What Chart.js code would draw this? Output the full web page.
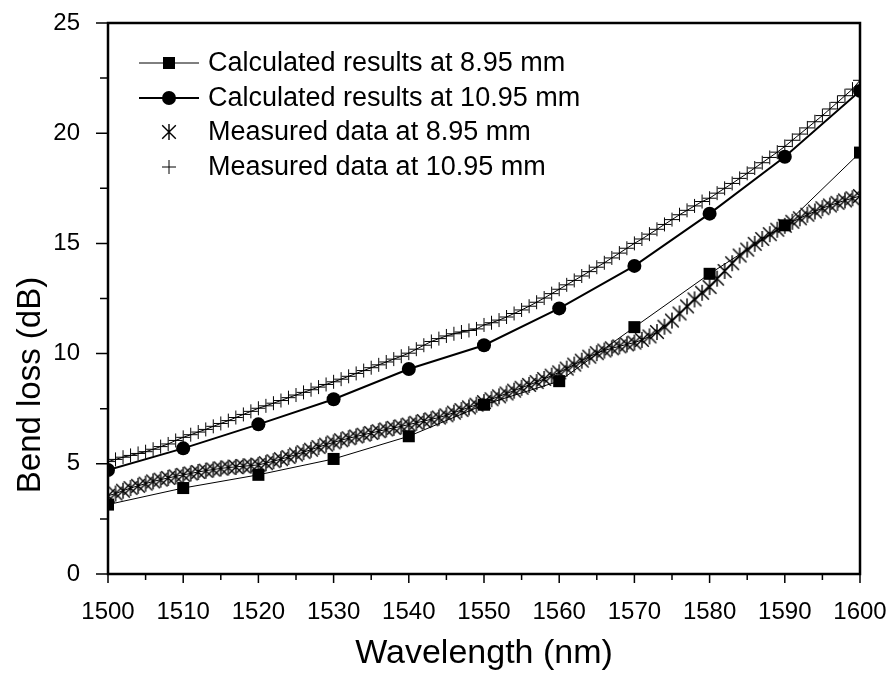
<!DOCTYPE html>
<html lang="en">
<head>
    <meta charset="UTF-8" />
    <title>Bend loss vs wavelength</title>
    <script src="https://cdn.jsdelivr.net/npm/chart.js"></script>
    <style>
        body { margin: 0; background: #fff; }
        canvas { display: block; }
    </style>
</head>
<body>
    <canvas id="lossChart" width="895" height="682"></canvas>

    <script>
        // calculated curves, every 10 nm
        const calcWavelength = [1500, 1510, 1520, 1530, 1540, 1550, 1560, 1570, 1580, 1590, 1600];
        const calc895 = [3.15, 3.9, 4.5, 5.22, 6.25, 7.68, 8.75, 11.2, 13.62, 15.82, 19.12];
        const calc1095 = [4.72, 5.7, 6.79, 7.93, 9.3, 10.38, 12.05, 13.98, 16.35, 18.93, 21.92];

        // measured data, every 1 nm
        const measWavelength = [
            1500, 1501, 1502, 1503, 1504, 1505, 1506, 1507, 1508, 1509,
            1510, 1511, 1512, 1513, 1514, 1515, 1516, 1517, 1518, 1519,
            1520, 1521, 1522, 1523, 1524, 1525, 1526, 1527, 1528, 1529,
            1530, 1531, 1532, 1533, 1534, 1535, 1536, 1537, 1538, 1539,
            1540, 1541, 1542, 1543, 1544, 1545, 1546, 1547, 1548, 1549,
            1550, 1551, 1552, 1553, 1554, 1555, 1556, 1557, 1558, 1559,
            1560, 1561, 1562, 1563, 1564, 1565, 1566, 1567, 1568, 1569,
            1570, 1571, 1572, 1573, 1574, 1575, 1576, 1577, 1578, 1579,
            1580, 1581, 1582, 1583, 1584, 1585, 1586, 1587, 1588, 1589,
            1590, 1591, 1592, 1593, 1594, 1595, 1596, 1597, 1598, 1599,
            1600
        ];
        const meas895 = [
            3.55, 3.65, 3.78, 3.9, 4.0, 4.1, 4.2, 4.28, 4.36, 4.43,
            4.5, 4.56, 4.63, 4.69, 4.74, 4.79, 4.83, 4.86, 4.89, 4.92,
            4.95, 5.03, 5.12, 5.21, 5.31, 5.42, 5.53, 5.64, 5.76, 5.87,
            5.97, 6.07, 6.16, 6.24, 6.32, 6.4, 6.48, 6.56, 6.63, 6.7,
            6.78, 6.86, 6.94, 7.02, 7.1, 7.2, 7.32, 7.44, 7.56, 7.68,
            7.8, 7.93, 8.06, 8.19, 8.32, 8.45, 8.58, 8.71, 8.85, 9.0,
            9.15, 9.32, 9.5, 9.68, 9.86, 10.02, 10.14, 10.24, 10.33, 10.42,
            10.5, 10.62, 10.78, 10.98, 11.22, 11.5, 11.82, 12.14, 12.46, 12.76,
            13.02, 13.4, 13.75, 14.1, 14.45, 14.72, 14.98, 15.2, 15.42, 15.62,
            15.8, 15.98, 16.14, 16.3, 16.45, 16.6, 16.72, 16.84, 16.95, 17.05,
            17.15
        ];
        const meas1095 = [
            5.1, 5.2, 5.3, 5.38, 5.47, 5.55, 5.66, 5.78, 5.9, 6.06,
            6.2, 6.32, 6.44, 6.56, 6.7, 6.83, 6.96, 7.1, 7.24, 7.38,
            7.52, 7.63, 7.75, 7.87, 8.0, 8.12, 8.24, 8.36, 8.48, 8.6,
            8.72, 8.84, 8.97, 9.1, 9.23, 9.36, 9.49, 9.62, 9.75, 9.88,
            10.02, 10.2, 10.38, 10.55, 10.68, 10.8, 10.9, 10.98, 11.05, 11.12,
            11.3, 11.4, 11.52, 11.66, 11.82, 11.98, 12.15, 12.33, 12.52, 12.72,
            12.92, 13.12, 13.32, 13.52, 13.72, 13.92, 14.12, 14.34, 14.56, 14.78,
            15.0, 15.2, 15.42, 15.64, 15.86, 16.08, 16.3, 16.5, 16.7, 16.9,
            17.05, 17.28, 17.5, 17.72, 17.95, 18.18, 18.42, 18.66, 18.9, 19.14,
            19.4, 19.68, 19.96, 20.24, 20.52, 20.8, 21.1, 21.4, 21.7, 22.0,
            22.4
        ];

        const seriesLabels = [
            'Calculated results at 8.95 mm',
            'Calculated results at 10.95 mm',
            'Measured data at 8.95 mm',
            'Measured data at 10.95 mm'
        ];
        const xTitle = 'Wavelength (nm)';
        const yTitle = 'Bend loss (dB)';

        const FONT = "'Liberation Sans', Arial, sans-serif";

        function pairs(xs, ys) {
            return xs.map((x, i) => ({ x: x, y: ys[i] }));
        }

        // six-armed asterisk marker
        function makeAsterisk(r) {
            const c = document.createElement('canvas');
            c.width = c.height = 2 * r + 2;
            const g = c.getContext('2d');
            const m = r + 1;
            const d = r * 0.85;
            g.strokeStyle = '#000';
            g.lineWidth = 1.4;
            g.beginPath();
            g.moveTo(m, m - r); g.lineTo(m, m + r);
            g.moveTo(m - d, m - d); g.lineTo(m + d, m + d);
            g.moveTo(m - d, m + d); g.lineTo(m + d, m - d);
            g.stroke();
            return c;
        }
        const asterisk = makeAsterisk(8);

        // frame + outward major/minor ticks, like the original plot
        const framePlugin = {
            id: 'frame',
            afterDraw(chart) {
                const { ctx, chartArea: a, scales: { x, y } } = chart;
                ctx.save();
                ctx.strokeStyle = '#000';
                ctx.lineWidth = 1.5;
                const xt = x.ticks.map(t => t.value);
                const yt = y.ticks.map(t => t.value);
                ctx.beginPath();
                xt.forEach((v, i) => {
                    const px = x.getPixelForValue(v);
                    ctx.moveTo(px, a.bottom); ctx.lineTo(px, a.bottom + 9);
                    if (i < xt.length - 1) {
                        const mx = x.getPixelForValue((v + xt[i + 1]) / 2);
                        ctx.moveTo(mx, a.bottom); ctx.lineTo(mx, a.bottom + 6);
                    }
                });
                yt.forEach((v, i) => {
                    const py = y.getPixelForValue(v);
                    ctx.moveTo(a.left, py); ctx.lineTo(a.left - 12, py);
                    if (i < yt.length - 1) {
                        const my = y.getPixelForValue((v + yt[i + 1]) / 2);
                        ctx.moveTo(a.left, my); ctx.lineTo(a.left - 8, my);
                    }
                });
                ctx.stroke();
                ctx.lineWidth = 2.5;
                ctx.strokeRect(a.left, a.top, a.width, a.height);

                // y axis title sits a bit below the axis middle in the original
                ctx.fillStyle = '#000';
                ctx.font = '33px ' + FONT;
                ctx.textAlign = 'center';
                ctx.textBaseline = 'middle';
                ctx.translate(31, 385);
                ctx.rotate(-Math.PI / 2);
                ctx.fillText(yTitle, 0, 0);
                ctx.restore();
            }
        };

        // legend with line-marker-line samples
        const legendPlugin = {
            id: 'sampleLegend',
            afterDraw(chart) {
                const ctx = chart.ctx;
                const x0 = 139, x1 = 199, xm = 169, xText = 208;
                const rows = [63, 98, 132, 167];
                ctx.save();
                ctx.fillStyle = '#000';
                ctx.strokeStyle = '#000';
                ctx.font = '27px ' + FONT;
                ctx.textBaseline = 'middle';
                chart.data.datasets.forEach((ds, i) => {
                    const yy = rows[i];
                    if (i < 2) {
                        ctx.lineWidth = ds.borderWidth;
                        ctx.beginPath();
                        ctx.moveTo(x0, yy); ctx.lineTo(x1, yy);
                        ctx.stroke();
                    }
                    if (i === 0) {
                        ctx.fillRect(xm - 6, yy - 6, 12, 12);
                    } else if (i === 1) {
                        ctx.beginPath();
                        ctx.arc(xm, yy, 7, 0, Math.PI * 2);
                        ctx.fill();
                    } else if (i === 2) {
                        ctx.drawImage(asterisk, xm - asterisk.width / 2, yy - asterisk.height / 2);
                    } else {
                        ctx.lineWidth = 1;
                        ctx.beginPath();
                        ctx.moveTo(xm - 7, yy); ctx.lineTo(xm + 7, yy);
                        ctx.moveTo(xm, yy - 7); ctx.lineTo(xm, yy + 7);
                        ctx.stroke();
                    }
                    ctx.fillText(ds.label, xText, yy + 1);
                });
                ctx.restore();
            }
        };

        const ctx = document.getElementById('lossChart').getContext('2d');
        new Chart(ctx, {
            type: 'scatter',
            data: {
                datasets: [{
                    label: seriesLabels[0],
                    data: pairs(calcWavelength, calc895),
                    showLine: true,
                    borderColor: '#000',
                    borderWidth: 1,
                    pointStyle: 'rect',
                    pointRadius: 8.5,
                    pointBackgroundColor: '#000',
                    pointBorderWidth: 0,
                    clip: 0
                }, {
                    label: seriesLabels[1],
                    data: pairs(calcWavelength, calc1095),
                    showLine: true,
                    borderColor: '#000',
                    borderWidth: 2,
                    pointStyle: 'circle',
                    pointRadius: 7,
                    pointBackgroundColor: '#000',
                    pointBorderWidth: 0,
                    clip: 0
                }, {
                    label: seriesLabels[2],
                    data: pairs(measWavelength, meas895),
                    showLine: true,
                    borderColor: '#000',
                    borderWidth: 1,
                    pointStyle: asterisk,
                    pointRadius: 7,
                    clip: 0
                }, {
                    label: seriesLabels[3],
                    data: pairs(measWavelength, meas1095),
                    showLine: true,
                    borderColor: '#000',
                    borderWidth: 1,
                    pointStyle: 'cross',
                    pointRadius: 7,
                    pointBorderColor: '#000',
                    pointBorderWidth: 1,
                    clip: 0
                }]
            },
            options: {
                responsive: false,
                animation: false,
                devicePixelRatio: 1,
                layout: { padding: { left: 0, right: 35, top: 23, bottom: 0 } },
                plugins: {
                    legend: { display: false },
                    tooltip: { enabled: false }
                },
                scales: {
                    x: {
                        type: 'linear',
                        min: 1500,
                        max: 1600,
                        grid: { display: false },
                        border: { display: false },
                        ticks: {
                            stepSize: 10,
                            padding: 16,
                            color: '#000',
                            maxRotation: 0,
                            font: { family: FONT, size: 24 },
                            callback: v => String(v)
                        },
                        title: {
                            display: true,
                            text: xTitle,
                            color: '#000',
                            font: { family: FONT, size: 34 },
                            padding: { top: 0, bottom: 8 }
                        },
                        afterFit: s => {
                            s.height = 108;
                            s.paddingLeft = 0;
                            s.paddingRight = 0;
                        }
                    },
                    y: {
                        min: 0,
                        max: 25,
                        grid: { display: false },
                        border: { display: false },
                        ticks: {
                            stepSize: 5,
                            padding: 20,
                            color: '#000',
                            font: { family: FONT, size: 24 }
                        },
                        afterFit: s => {
                            s.width = 108;
                            s.paddingTop = 0;
                            s.paddingBottom = 0;
                        }
                    }
                }
            },
            plugins: [framePlugin, legendPlugin]
        });
    </script>
</body>
</html>
